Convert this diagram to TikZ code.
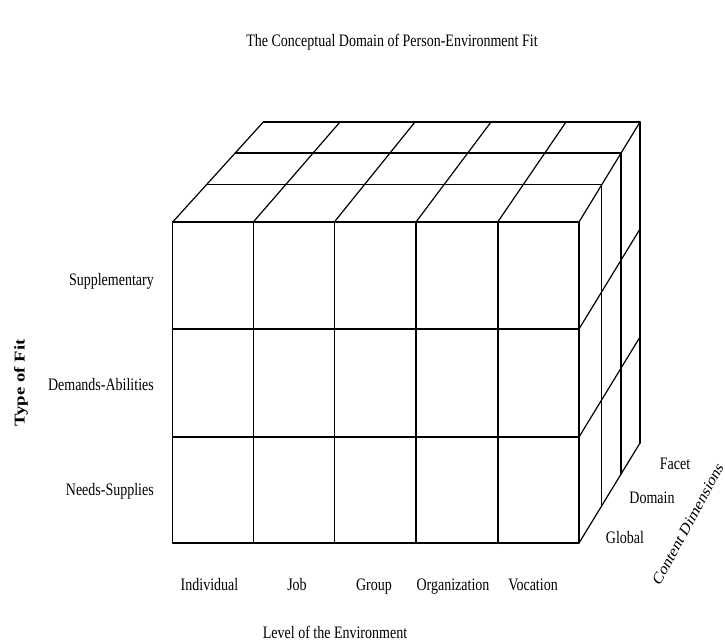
\documentclass[tikz,border=0pt]{standalone}
\usepackage{fontspec}
\setmainfont{Liberation Serif}
\newcommand{\vs}[1]{\scalebox{1}[1.25]{#1}}
\tikzset{
  grid/.style={line width=1.2pt, line cap=round, line join=round},
  heavy/.style={line width=2.4pt},
  lbl/.style={inner sep=0pt, font=\fontsize{14}{14}\selectfont},
}
\begin{document}
\begin{tikzpicture}[x=1pt,y=-1pt]
\useasboundingbox (0,0) rectangle (725,641);
% ---- corner coordinates
\coordinate (FTL) at (172.7,222);
\coordinate (FTR) at (579,222);
\coordinate (FBL) at (172.7,543);
\coordinate (FBR) at (579,543);
\coordinate (BTL) at (263.3,122);
\coordinate (BTR) at (640,122);
\coordinate (BBR) at (640,443);
% ---- front face
\draw[grid] (FTL) rectangle (FBR);
\foreach \x in {253.3,334.3,416} \draw[grid] (\x,222) -- (\x,543);
\draw[grid,heavy] (497.7,222) -- (497.7,543);
\draw[grid] (172.7,437) -- (579,437);
\draw[grid,heavy] (172.7,329) -- (579,329);
% ---- top face
\foreach \t in {0.375,0.69,1}
  \draw[grid] ({172.7+90.6*\t},{222-100*\t}) -- ({579+61*\t},{222-100*\t});
\foreach \a/\b in {172.7/263.3, 253.3/340, 334.3/415, 416/491, 497.7/566}
  \draw[grid] (\a,222) -- (\b,122);
\draw[grid] (FTR) -- (BTR);
% ---- right face
\foreach \t in {0.375,0.69,1}
  \draw[grid] ({579+61*\t},{222-100*\t}) -- ({579+61*\t},{543-100*\t});
\foreach \y in {329,437}
  \draw[grid] (579,\y) -- (640,\y-100);
\draw[grid] (FBR) -- (BBR);
% ---- labels
\node[lbl,anchor=base] (title) at (392,46) {\vs{The Conceptual Domain of Person-Environment Fit}};
\node[lbl,anchor=base east] (supp) at (154,285) {\vs{Supplementary}};
\node[lbl,anchor=base east] (dema) at (154,390) {\vs{Demands-Abilities}};
\node[lbl,anchor=base east] (need) at (154,495) {\vs{Needs-Supplies}};
\node[lbl] (type) at (21,383) {\vs{\rotatebox{90}{\fontsize{15}{15}\selectfont\bfseries Type of Fit}}};
\node[lbl,anchor=base] (indiv) at (209.5,590) {\vs{Individual}};
\node[lbl,anchor=base] (job) at (297,590) {\vs{Job}};
\node[lbl,anchor=base] (group) at (374,590) {\vs{Group}};
\node[lbl,anchor=base] (org) at (453,590) {\vs{Organization}};
\node[lbl,anchor=base] (voc) at (533,590) {\vs{Vocation}};
\node[lbl,anchor=base] (level) at (335,638) {\vs{Level of the Environment}};
\node[lbl,anchor=base] (facet) at (675,469) {\vs{Facet}};
\node[lbl,anchor=base] (domain) at (652,503) {\vs{Domain}};
\node[lbl,anchor=base] (global) at (625,543) {\vs{Global}};
\node[lbl] (content) at (688,524) {\vs{\rotatebox{56}{Content Dimensions}}};
\end{tikzpicture}
\end{document}
